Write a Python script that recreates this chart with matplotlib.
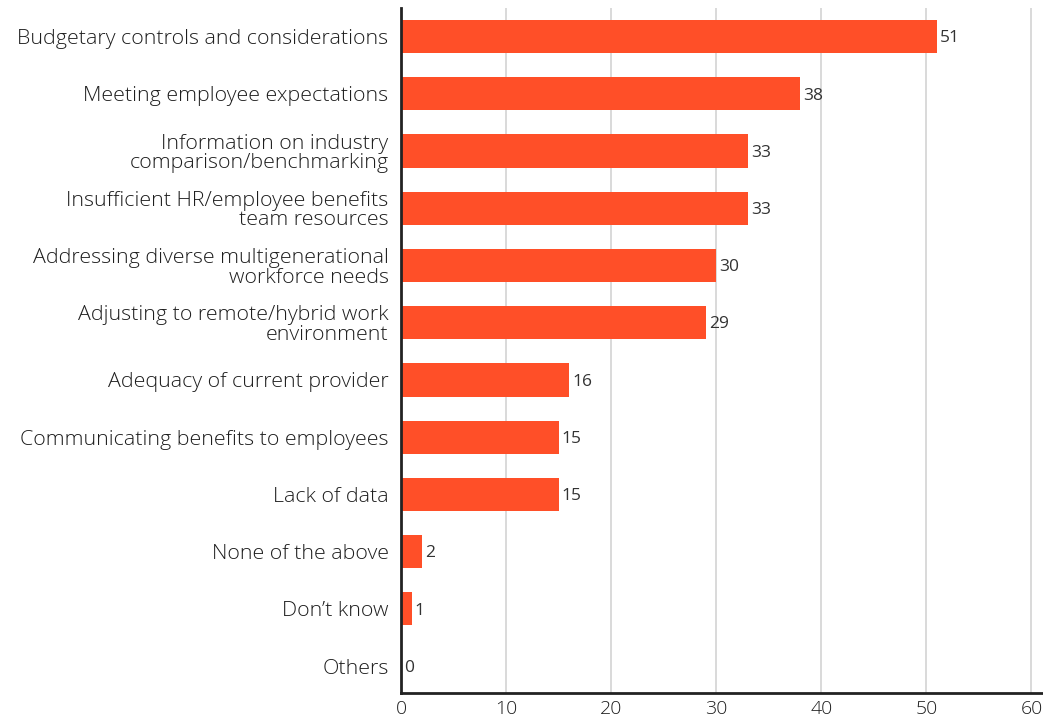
import matplotlib.pyplot as plt

categories = [
    "Budgetary controls and considerations",
    "Meeting employee expectations",
    "Information on industry\ncomparison/benchmarking",
    "Insufficient HR/employee benefits\nteam resources",
    "Addressing diverse multigenerational\nworkforce needs",
    "Adjusting to remote/hybrid work\nenvironment",
    "Adequacy of current provider",
    "Communicating benefits to employees",
    "Lack of data",
    "None of the above",
    "Don\u2019t know",
    "Others",
]
values = [51, 38, 33, 33, 30, 29, 16, 15, 15, 2, 1, 0]
xticks = [0, 10, 20, 30, 40, 50, 60]

plt.rcParams['font.family'] = ['Open Sans', 'DejaVu Sans']
plt.rcParams['font.weight'] = 300
text_color = "#1e1e1e"

fig = plt.figure(figsize=(10.43, 7.26), dpi=100)
ax = fig.add_axes([0.3845, 0.0455, 0.6155, 0.9435])

ypos = list(range(len(categories)))
ax.barh(ypos, values, height=0.58, color="#FF4F28", zorder=3)

for y, v in zip(ypos, values):
    ax.text(v + 0.3, y + 0.03, str(v), va="center", ha="left",
            fontsize=12.5, color="#333333", fontweight="normal", zorder=4)

ax.set_xlim(0, 61.1)
ax.set_ylim(11.47, -0.5)
ax.set_yticks(ypos)
ax.set_yticklabels(categories, fontsize=15.4, color=text_color, linespacing=0.98)
ax.set_xticks(xticks)
ax.set_xticklabels([str(t) for t in xticks], fontsize=14, color=text_color)
ax.tick_params(axis="both", length=0)
ax.tick_params(axis="y", pad=9)
ax.tick_params(axis="x", pad=5)

ax.grid(axis="x", color="#cfcfcf", lw=1.1, zorder=0)
ax.spines['right'].set_visible(False)
ax.spines['top'].set_visible(False)
for side in ['left', 'bottom']:
    ax.spines[side].set_linewidth(2)
    ax.spines[side].set_color("#222222")
    ax.spines[side].set_zorder(5)

fig.savefig("out.png", dpi=100)
